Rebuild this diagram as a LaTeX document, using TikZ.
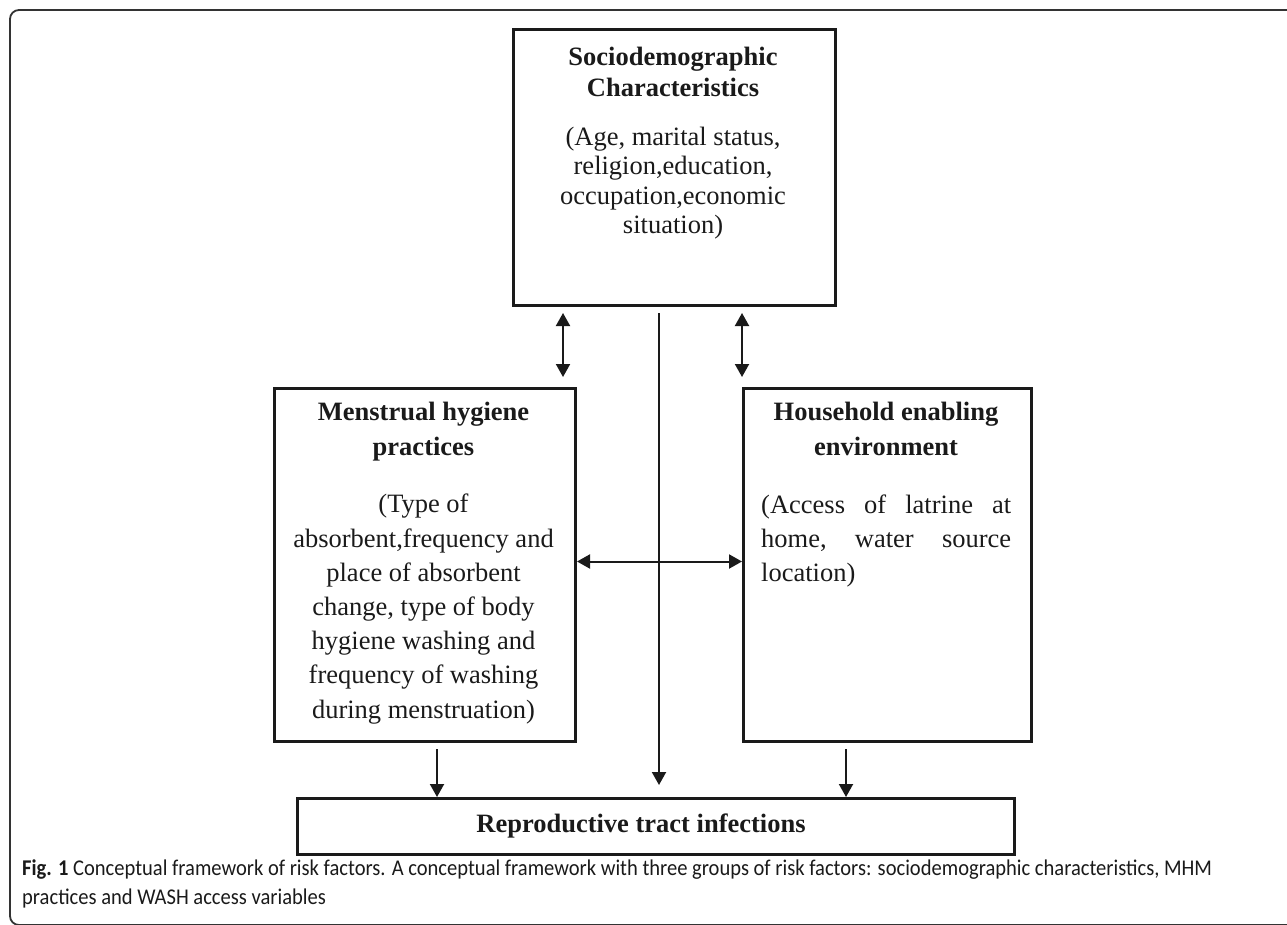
\documentclass[tikz,border=0pt]{standalone}
\usepackage{fontspec}
\setmainfont{Liberation Serif}
\newfontfamily\capfont[FakeStretch=0.913]{Carlito}
\usetikzlibrary{arrows.meta}
\definecolor{ink}{HTML}{1A1A1A}
\begin{document}
\begin{tikzpicture}[x=1pt,y=-1pt,
  box/.style={draw=ink, line width=3pt, anchor=north west, inner sep=0pt},
  hd/.style={font=\bfseries\fontsize{26.5}{31}\selectfont, text=ink, align=center, inner sep=0pt, anchor=base},
  hdw/.style={font=\bfseries\fontsize{26.5}{35}\selectfont, text=ink, align=center, inner sep=0pt, anchor=base},
  bd/.style={font=\fontsize{26.5}{29.5}\selectfont, text=ink, align=center, inner sep=0pt, anchor=base},
  bdw/.style={font=\fontsize{26.5}{34.2}\selectfont, text=ink, align=center, inner sep=0pt, anchor=base},
  conn/.style={draw=ink, line width=2pt},
  tip/.style={-{Triangle[width=14pt,length=13pt]}},
  both/.style={{Triangle[width=14pt,length=13pt]}-{Triangle[width=14pt,length=13pt]}}
]
\useasboundingbox (0,0) rectangle (1287,925);
% outer frame
\draw[draw=black!80, line width=1.8pt, rounded corners=9pt] (1300,10) -- (10,10) -- (10,925) -- (1300,925);

% boxes
\node[box, minimum width=322pt, minimum height=276pt] (socio) at (512,28) {};
\node[box, minimum width=301pt, minimum height=353pt] (mhp) at (273,387) {};
\node[box, minimum width=288pt, minimum height=353pt] (house) at (742,387) {};
\node[box, minimum width=717pt, minimum height=56pt] (rti) at (296,797) {};

% texts (anchor=base is the baseline of the last line)
\node[hd] (socioH) at (673,97) {Sociodemographic\\Characteristics};
\node[bd] (socioB) at (673,234) {(Age, marital status,\\religion,education,\\occupation,economic\\situation)};
\node[hdw] (mhpH) at (423.5,455) {Menstrual hygiene\\practices};
\node[bdw] (mhpB) at (423.5,718) {(Type of\\absorbent,frequency and\\place of absorbent\\change, type of body\\hygiene washing and\\frequency of washing\\during menstruation)};
\node[hdw] (houseH) at (886,455) {Household enabling\\environment};
\node[bdw, align=left, anchor=base west] (houseB) at (761,581.4) {\hbox to 250pt{(Access\hfill of\hfill latrine\hfill at}\\\hbox to 250pt{home,\hfill water\hfill source}\\location)};
\node[hd] (rtiT) at (641,832) {Reproductive tract infections};

% connector end points
\coordinate (lt) at (563,313);
\coordinate (lb) at (563,377);
\coordinate (rt) at (742,313);
\coordinate (rb) at (742,377);
\coordinate (ct) at (659,313);
\coordinate (cb) at (659,785);
\coordinate (ld) at (437,749);
\coordinate (rd) at (846,749);

\draw[conn, both] (lt) -- (lb);
\draw[conn, both] (rt) -- (rb);
\draw[conn, both] ([yshift=3.5pt]mhp.east) -- ([yshift=3.5pt]house.west);
\draw[conn, tip] (ct) -- (cb);
\draw[conn, tip] (ld) -- (ld |- rti.north);
\draw[conn, tip] (rd) -- (rd |- rti.north);

% caption
\node[anchor=base west, align=left, inner sep=0pt, text=ink,
  font=\capfont\fontsize{22.5}{29}\selectfont] (cap) at (22,904)
  {\textbf{Fig. 1} Conceptual framework of risk factors. A conceptual framework with three groups of risk factors: sociodemographic characteristics, MHM\\practices and WASH access variables};
\end{tikzpicture}
\end{document}
